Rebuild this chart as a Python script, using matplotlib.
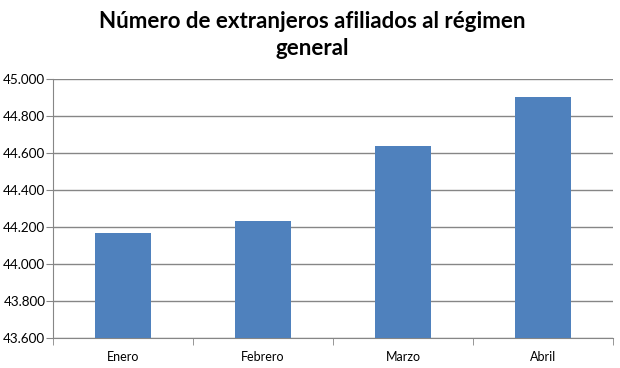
import matplotlib.pyplot as plt
from matplotlib.ticker import FuncFormatter

meses = ['Enero', 'Febrero', 'Marzo', 'Abril']
afiliados = [44170, 44235, 44640, 44905]
y_ticks = [43600, 43800, 44000, 44200, 44400, 44600, 44800, 45000]

plt.rcParams['font.family'] = ['Lato', 'DejaVu Sans']

fig = plt.figure(figsize=(6.2, 3.68), dpi=100)
ax = fig.add_axes([0.0855, 0.0815, 0.903, 0.7035])

x = range(len(meses))
ax.bar(x, afiliados, width=0.4, color='#4F81BD', zorder=3)

ax.set_ylim(43600, 45000)
ax.set_xlim(-0.5, 3.5)
ax.set_yticks(y_ticks)
ax.yaxis.set_major_formatter(FuncFormatter(lambda v, p: f'{v/1000:.3f}'))
ax.set_xticks(list(x))
ax.set_xticklabels(meses)
# ticks between the categories, like excel
ax.set_xticks([-0.5, 0.5, 1.5, 2.5, 3.5], minor=True)
ax.tick_params(axis='x', which='major', length=0, pad=9, labelsize=9)
ax.tick_params(axis='x', which='minor', length=5, color='#868686', direction='out')
ax.tick_params(axis='y', length=5, color='#868686', labelsize=9.7, pad=0.5)

ax.grid(axis='y', color='#868686', linewidth=1, zorder=0)
for s in ['top', 'right']:
    ax.spines[s].set_visible(False)
ax.spines['left'].set_color('#868686')
ax.spines['bottom'].set_color('#868686')

fig.text(0.503, 0.905, 'Número de extranjeros afiliados al régimen\ngeneral',
         ha='center', va='center', fontsize=16, fontweight='bold', linespacing=1.3)

fig.savefig('out.png', dpi=100)
